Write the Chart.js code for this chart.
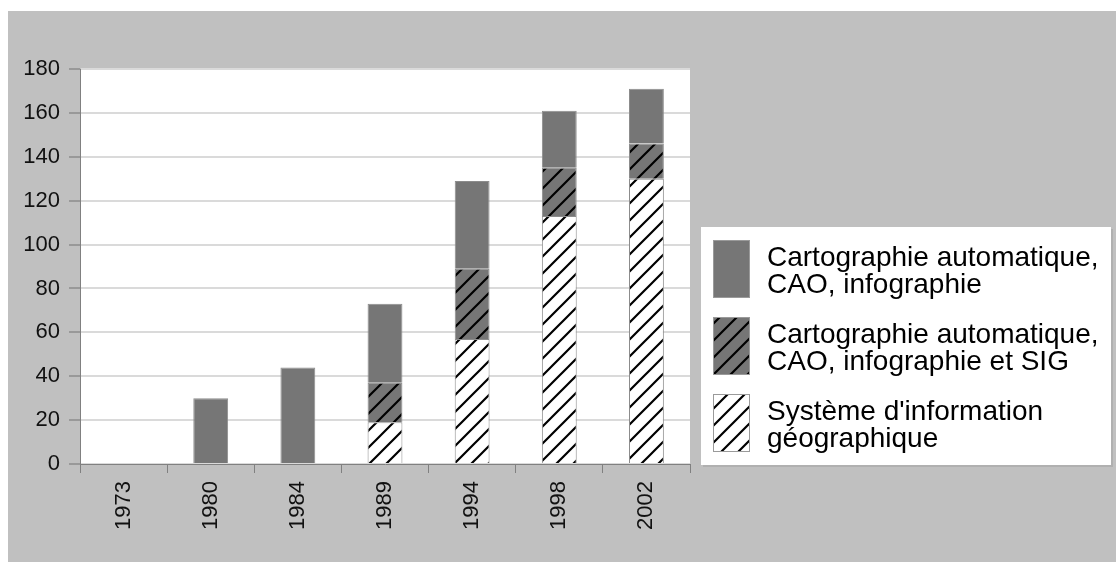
<!DOCTYPE html>
<html>
<head>
<meta charset="utf-8">
<script src="https://cdn.jsdelivr.net/npm/chart.js@4/dist/chart.umd.min.js"></script>
<style>
    html, body { margin: 0; padding: 0; background: #ffffff; }
    #chart { display: block; }
</style>
</head>
<body>
<canvas id="chart" width="1117" height="562"></canvas>
<script>
// Years on the category axis
const years = ['1973', '1980', '1984', '1989', '1994', '1998', '2002'];

// Stacked series, bottom to top
const sigValues = [0, 0, 0, 19, 57, 113, 130];
const mixedValues = [0, 0, 0, 18, 32, 22, 16];
const caoValues = [0, 30, 44, 36, 40, 26, 25];

const seriesLabels = [
    "Système d'information géographique",
    'Cartographie automatique, CAO, infographie et SIG',
    'Cartographie automatique, CAO, infographie'
];

const yTicks = [0, 20, 40, 60, 80, 100, 120, 140, 160, 180];

const FONT = "'Liberation Sans', Arial, sans-serif";
const DARK = '#767676';

// Diagonal hatching "/" on a given background
function makeHatch(bg) {
    const size = 17;
    const c = document.createElement('canvas');
    c.width = size;
    c.height = size;
    const g = c.getContext('2d');
    g.fillStyle = bg;
    g.fillRect(0, 0, size, size);
    g.strokeStyle = '#000000';
    g.lineWidth = 2.2;
    g.beginPath();
    g.moveTo(-2, size + 2);
    g.lineTo(size + 2, -2);
    g.moveTo(-2, 2);
    g.lineTo(2, -2);
    g.moveTo(size - 2, size + 2);
    g.lineTo(size + 2, size - 2);
    g.stroke();
    return g.createPattern(c, 'repeat');
}

const ctx = document.getElementById('chart').getContext('2d');
const hatchWhite = makeHatch('#ffffff');
const hatchDark = makeHatch(DARK);

// Gray frame and white plot area
const backdrop = {
    id: 'backdrop',
    beforeDraw(chart) {
        const c = chart.ctx;
        const a = chart.chartArea;
        c.save();
        c.fillStyle = '#c0c0c0';
        c.fillRect(8, 11, 1108, 551);
        c.fillStyle = '#ffffff';
        c.fillRect(a.left, a.top, a.right - a.left, a.bottom - a.top);
        c.restore();
    }
};

function wrapText(c, text, maxWidth) {
    const words = text.split(' ');
    const lines = [];
    let line = '';
    words.forEach(w => {
        const test = line ? line + ' ' + w : w;
        if (c.measureText(test).width > maxWidth && line) {
            lines.push(line);
            line = w;
        } else {
            line = test;
        }
    });
    if (line) lines.push(line);
    return lines;
}

// Boxed legend on the right, top series first
const boxLegend = {
    id: 'boxLegend',
    afterDraw(chart) {
        const c = chart.ctx;
        const box = { x: 701, y: 227, w: 410, h: 238 };
        c.save();
        c.fillStyle = '#b0b0b0';
        c.fillRect(box.x + 2, box.y + 2, box.w, box.h);
        c.fillStyle = '#ffffff';
        c.fillRect(box.x, box.y, box.w, box.h);

        c.font = '28px ' + FONT;
        c.fillStyle = '#000000';
        c.textBaseline = 'alphabetic';
        const sets = chart.data.datasets.slice().reverse();
        sets.forEach((ds, i) => {
            const top = 240 + i * 77;
            c.fillStyle = ds.backgroundColor;
            c.fillRect(713, top, 37, 58);
            c.strokeStyle = '#9a9a9a';
            c.lineWidth = 1;
            c.strokeRect(713.5, top + 0.5, 36, 57);
            c.fillStyle = '#000000';
            wrapText(c, ds.label, 345).forEach((ln, j) => {
                c.fillText(ln, 767, top + 26 + j * 27);
            });
        });
        c.restore();
    }
};

new Chart(ctx, {
    type: 'bar',
    data: {
        labels: years,
        datasets: [
            {
                label: seriesLabels[0],
                data: sigValues,
                backgroundColor: hatchWhite,
                borderColor: '#8c8c8c',
                borderWidth: 1
            },
            {
                label: seriesLabels[1],
                data: mixedValues,
                backgroundColor: hatchDark,
                borderColor: '#8c8c8c',
                borderWidth: 1
            },
            {
                label: seriesLabels[2],
                data: caoValues,
                backgroundColor: DARK,
                borderColor: '#8c8c8c',
                borderWidth: 1
            }
        ]
    },
    options: {
        responsive: false,
        animation: false,
        devicePixelRatio: 1,
        layout: {
            padding: { left: 8, top: 69, right: 427, bottom: 0 }
        },
        datasets: {
            bar: { categoryPercentage: 1, barPercentage: 0.4 }
        },
        plugins: {
            legend: { display: false },
            tooltip: { enabled: false }
        },
        scales: {
            x: {
                stacked: true,
                afterFit(scale) { scale.height = 98; },
                border: { color: '#808080', width: 1 },
                grid: {
                    drawOnChartArea: false,
                    drawTicks: true,
                    tickLength: 9,
                    color: '#808080'
                },
                ticks: {
                    color: '#111111',
                    font: { family: FONT, size: 22 },
                    minRotation: 90,
                    maxRotation: 90,
                    padding: 8
                }
            },
            y: {
                stacked: true,
                min: 0,
                max: 180,
                afterFit(scale) { scale.width = 72; },
                afterBuildTicks(scale) {
                    scale.ticks = yTicks.map(v => ({ value: v }));
                },
                border: { color: '#808080', width: 1 },
                grid: {
                    color: '#dadada',
                    lineWidth: 2,
                    tickColor: '#999999',
                    tickLength: 11
                },
                ticks: {
                    color: '#111111',
                    font: { family: FONT, size: 22 },
                    padding: 9
                }
            }
        }
    },
    plugins: [backdrop, boxLegend]
});
</script>
</body>
</html>
